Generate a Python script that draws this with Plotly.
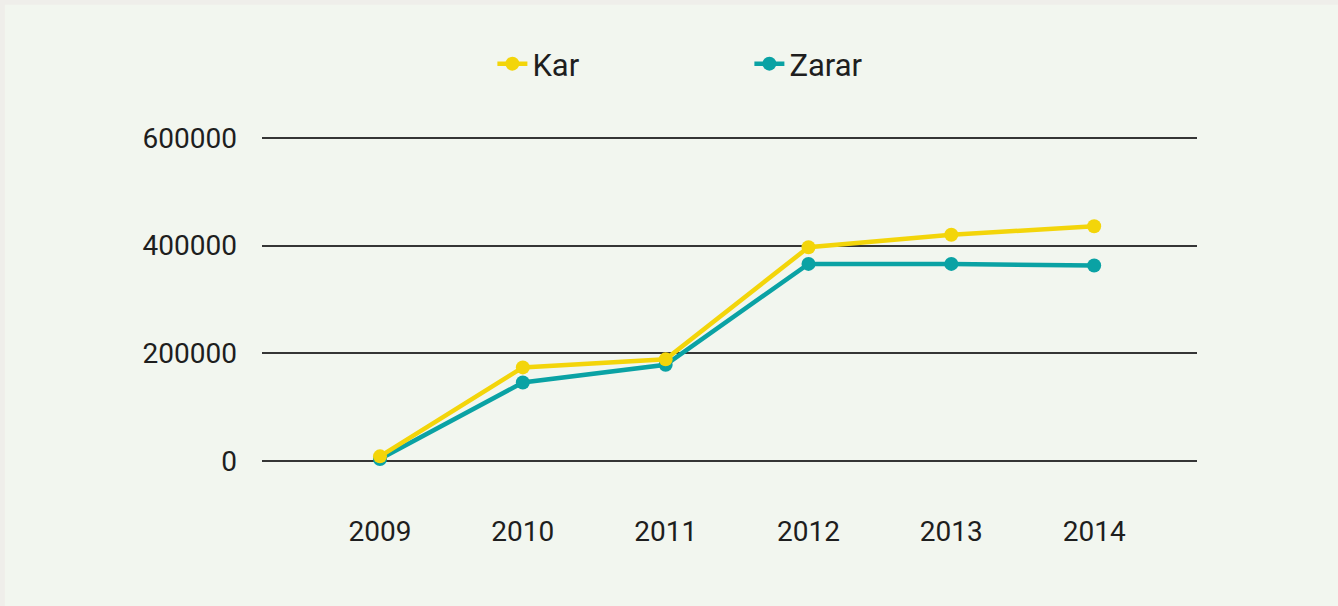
import plotly.graph_objects as go

# yıllar ve seriler
years = ["2009", "2010", "2011", "2012", "2013", "2014"]
kar = [9000, 174000, 189000, 397000, 420000, 436000]
zarar = [4000, 146000, 179000, 366000, 366000, 363000]
y_ticks = [0, 200000, 400000, 600000]

YELLOW = "#f3d50a"
TEAL = "#0aa2a4"
FONT = "Roboto"

fig = go.Figure()

# Zarar önce çizilsin, Kar üstte kalsın
fig.add_trace(go.Scatter(
    x=years, y=zarar, name="Zarar", mode="lines+markers",
    line=dict(color=TEAL, width=4.5), marker=dict(size=14, color=TEAL),
    legendrank=2, cliponaxis=False,
))
fig.add_trace(go.Scatter(
    x=years, y=kar, name="Kar", mode="lines+markers",
    line=dict(color=YELLOW, width=4.5), marker=dict(size=14, color=YELLOW),
    legendrank=1, cliponaxis=False,
))

# çerçeve + iç zemin
fig.add_shape(
    type="rect", xref="paper", yref="paper", layer="below",
    x0=-0.275, x1=1.2, y0=-0.45, y1=1.354,
    fillcolor="#f2f6ef", line=dict(width=0),
)

fig.update_layout(
    width=1338, height=606,
    margin=dict(l=262, r=141, t=127, b=134),
    paper_bgcolor="#efeeea",
    plot_bgcolor="rgba(0,0,0,0)",
    font=dict(family=FONT, size=28, color="#1e1e1e"),
    showlegend=True,
    legend=dict(
        orientation="h", xref="container", yref="container",
        x=0.368, y=1 - 64 / 606, xanchor="left", yanchor="middle",
        bgcolor="rgba(0,0,0,0)", entrywidth=212, entrywidthmode="pixels",
        font=dict(size=31),
    ),
)
fig.update_xaxes(
    type="category", range=[-0.826, 5.72],
    showgrid=False, showline=False, zeroline=False,
    ticks="", ticklabelstandoff=40,
)
fig.update_yaxes(
    range=[-20000, 620000], tickvals=y_ticks,
    ticktext=[str(v) for v in y_ticks],
    showgrid=True, gridcolor="#353535", gridwidth=2,
    zeroline=True, zerolinecolor="#353535", zerolinewidth=2,
    showline=False, ticks="", ticklabelstandoff=24,
)

# sayfa kenar boşluğunu kaldır
fig.write_html(
    "out.html",
    config={"displayModeBar": False},
    post_script="document.body.style.margin='0';",
)
